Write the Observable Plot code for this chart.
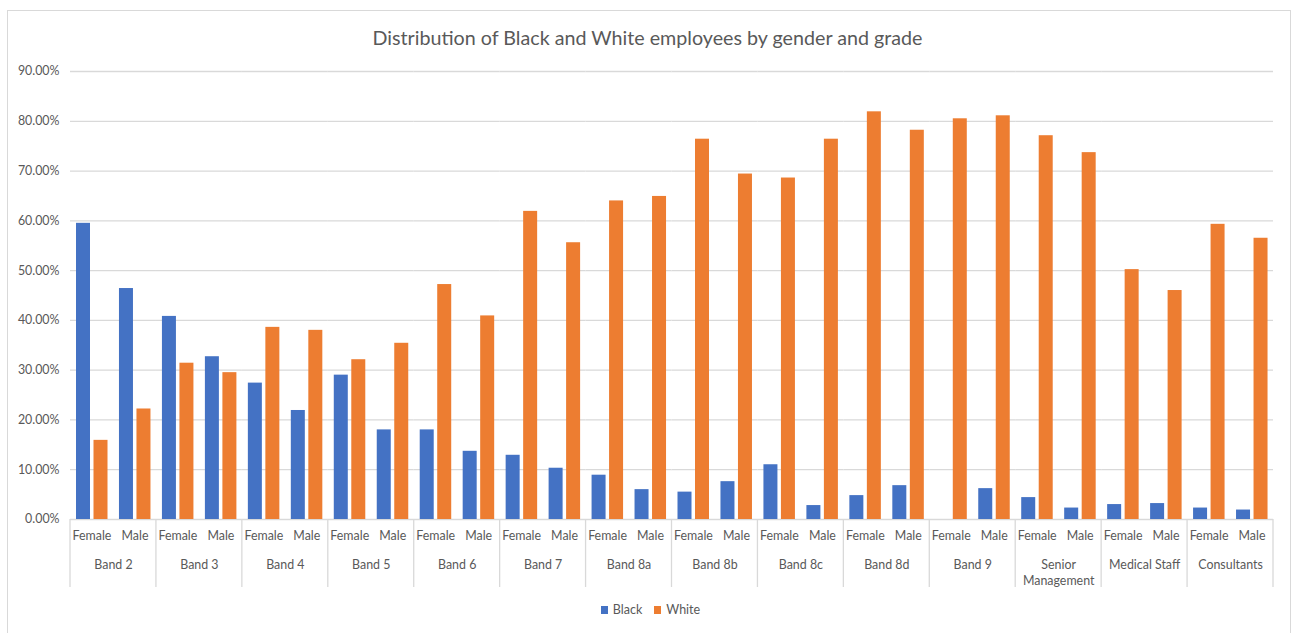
<!DOCTYPE html>
<html>
<head>
<meta charset="utf-8">
<script src="https://cdn.jsdelivr.net/npm/d3@7"></script>
<script src="https://cdn.jsdelivr.net/npm/@observablehq/plot@0.6"></script>
<style>
  html, body { margin: 0; padding: 0; background: #fff; }
  body { width: 1295px; height: 633px; position: relative; overflow: hidden; font-family: Lato, "Open Sans", sans-serif; color: #595959; }
  #frame { position: absolute; left: 7px; top: 10px; width: 1284px; height: 640px; border: 1px solid #d9d9d9; box-sizing: border-box; }
  #title { position: absolute; left: 0; width: 1295px; top: 25px; text-align: center; font-size: 19.7px; line-height: 26px; color: #595959; }
  #chart { position: absolute; left: 0; top: 60px; }
  #legend { position: absolute; left: 0; width: 1295px; top: 602px; display: flex; justify-content: center; gap: 12px; font-size: 12.5px; line-height: 16px; padding-left: 6px; box-sizing: border-box; }
  #legend span.item { display: inline-flex; align-items: center; gap: 5px; }
  #legend i { display: inline-block; width: 7px; height: 8px; }
</style>
</head>
<body>
<div id="frame"></div>
<div id="title">Distribution of Black and White employees by gender and grade</div>
<div id="chart"></div>
<div id="legend"></div>
<script>
// Staff grades along the bottom axis
const grades = ["Band 2", "Band 3", "Band 4", "Band 5", "Band 6", "Band 7", "Band 8a", "Band 8b",
  "Band 8c", "Band 8d", "Band 9", "Senior Management", "Medical Staff", "Consultants"];
const genders = ["Female", "Male"];
const series = ["Black", "White"];
const seriesColors = ["#4472C4", "#ED7D31"];

// Share of employees (%) per grade
const blackFemale = [59.5, 40.8, 27.4, 29.0, 18.0, 12.9, 8.9, 5.5, 11.0, 4.8, 0.0, 4.4, 3.0, 2.3];
const blackMale   = [46.4, 32.7, 21.9, 18.0, 13.7, 10.3, 6.0, 7.6, 2.8, 6.8, 6.2, 2.3, 3.2, 1.9];
const whiteFemale = [15.9, 31.4, 38.6, 32.1, 47.2, 61.9, 64.0, 76.4, 68.6, 81.9, 80.5, 77.1, 50.2, 59.3];
const whiteMale   = [22.2, 29.5, 38.0, 35.4, 40.9, 55.6, 64.9, 69.4, 76.4, 78.2, 81.1, 73.7, 46.0, 56.5];

const yTicks = [0, 10, 20, 30, 40, 50, 60, 70, 80, 90];

const rows = [];
grades.forEach((grade, i) => {
  rows.push({grade, gender: "Female", race: "Black", value: blackFemale[i]});
  rows.push({grade, gender: "Female", race: "White", value: whiteFemale[i]});
  rows.push({grade, gender: "Male", race: "Black", value: blackMale[i]});
  rows.push({grade, gender: "Male", race: "White", value: whiteMale[i]});
});
const black = rows.filter(d => d.race === "Black");
const white = rows.filter(d => d.race === "White");

const W = 1295, ML = 70, MR = 22, MT = 11, MB = 76, PLOT_H = 448;
// Width of one gender slot inside a grade group
const slot = (W - ML - MR) / grades.length / genders.length;
const barW = 14, outer = 6, inner = 3.5;

const chart = Plot.plot({
  width: W,
  height: MT + PLOT_H + MB,
  marginLeft: ML,
  marginRight: MR,
  marginTop: MT,
  marginBottom: MB,
  style: {fontFamily: "Lato, 'Open Sans', sans-serif", fontSize: "12.4px", color: "#595959", background: "transparent"},
  fx: {domain: grades, padding: 0, round: false, label: null},
  x: {domain: genders, padding: 0, round: false, label: null},
  y: {domain: [0, 90], label: null},
  marks: [
    Plot.gridY(yTicks, {stroke: "#d9d9d9", strokeOpacity: 1, strokeWidth: 1.3}),
    Plot.barY(black, {fx: "grade", x: "gender", y: "value", fill: seriesColors[0],
      insetLeft: outer, insetRight: slot - outer - barW}),
    Plot.barY(white, {fx: "grade", x: "gender", y: "value", fill: seriesColors[1],
      insetLeft: outer + barW + inner, insetRight: slot - outer - 2 * barW - inner}),
    Plot.axisY(yTicks, {tickSize: 0, tickPadding: 11, tickFormat: d => d.toFixed(2) + "%", label: null, fill: "#595959"}),
    Plot.axisX({anchor: "bottom", tickSize: 0, tickPadding: 12, label: null, fill: "#595959"}),
    Plot.axisFx({anchor: "bottom", tickSize: 0, tickPadding: 38, label: null, fill: "#595959", lineHeight: 1.3,
      tickFormat: d => d === "Senior Management" ? "Senior\nManagement" : d})
  ]
});
document.getElementById("chart").appendChild(chart);

// Category separators under the axis, at each grade boundary
const fx = chart.scale("fx");
const y = chart.scale("y");
const y0 = y.apply(0);
const bounds = grades.map(g => fx.apply(g)).concat([fx.apply(grades[grades.length - 1]) + fx.bandwidth]);
const sep = d3.select(chart).append("g").attr("stroke", "#d9d9d9").attr("stroke-width", 1.3);
bounds.forEach(bx => {
  sep.append("line").attr("x1", bx).attr("x2", bx).attr("y1", y0).attr("y2", y0 + 68);
});

// Legend
const legend = d3.select("#legend");
series.forEach((s, i) => {
  const item = legend.append("span").attr("class", "item");
  item.append("i").style("background", seriesColors[i]);
  item.append("span").text(s);
});
</script>
</body>
</html>
